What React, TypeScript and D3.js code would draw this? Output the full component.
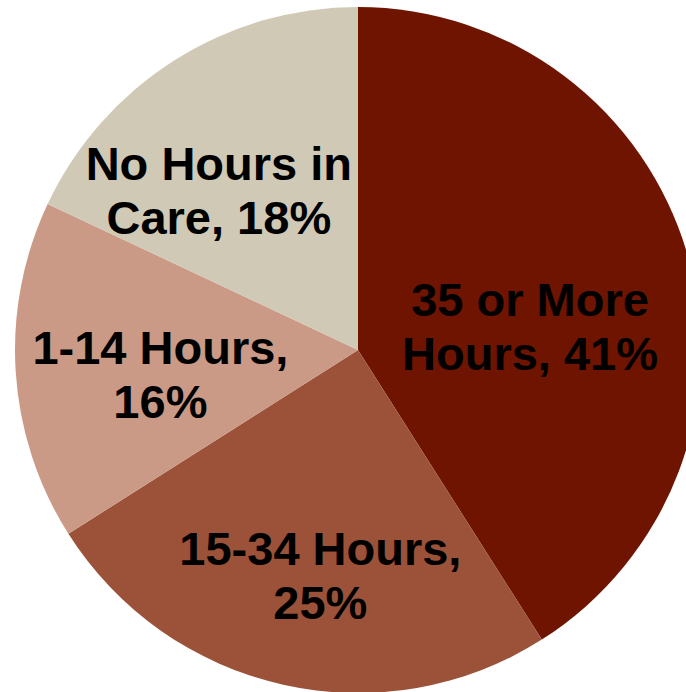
import React from "react";
import * as d3 from "d3";

const categories = ["35 or More Hours", "15-34 Hours", "1-14 Hours", "No Hours in Care"];
const values = [41, 25, 16, 18];
const labelLines = [
  ["35 or More", "Hours, 41%"],
  ["15-34 Hours,", "25%"],
  ["1-14 Hours,", "16%"],
  ["No Hours in", "Care, 18%"],
];
const colors = ["#6E1400", "#9B5238", "#CB9A86", "#D0C9B6"];

// layout
const W = 686;
const H = 692;
const CX = 358;
const CY = 350;
const R = 343;
const LABEL_R = 200;
const labelNudge = [
  [-20, 32],
  [6, 30],
  [2, 11],
  [-32, 9],
];
const FONT_SIZE = 47;
const LINE_H = 54;

export default function App() {
  const pie = d3
    .pie<number>()
    .sort(null)
    .value((d) => d)
    .startAngle(0)
    .endAngle(2 * Math.PI);
  const arcs = pie(values);
  const arc = d3.arc<d3.PieArcDatum<number>>().innerRadius(0).outerRadius(R);
  const labelArc = d3
    .arc<d3.PieArcDatum<number>>()
    .innerRadius(LABEL_R)
    .outerRadius(LABEL_R);

  return (
    <svg
      width={W}
      height={H}
      style={{ position: "absolute", left: 0, top: 0, background: "#fff" }}
    >
      <g transform={`translate(${CX},${CY})`}>
        {arcs.map((a, i) => (
          <path key={categories[i]} d={arc(a) || ""} fill={colors[i]} />
        ))}
        {arcs.map((a, i) => {
          const [x, y] = labelArc.centroid(a);
          const cx = x + labelNudge[i][0];
          const cy = y + labelNudge[i][1];
          return (
            <text
              key={"l" + i}
              textAnchor="middle"
              fontFamily="'Liberation Sans', Arial, sans-serif"
              fontWeight="bold"
              fontSize={FONT_SIZE}
              fill="#000"
            >
              {labelLines[i].map((ln, j) => (
                <tspan key={j} x={cx} y={cy - 10 + j * LINE_H}>
                  {ln}
                </tspan>
              ))}
            </text>
          );
        })}
      </g>
    </svg>
  );
}
